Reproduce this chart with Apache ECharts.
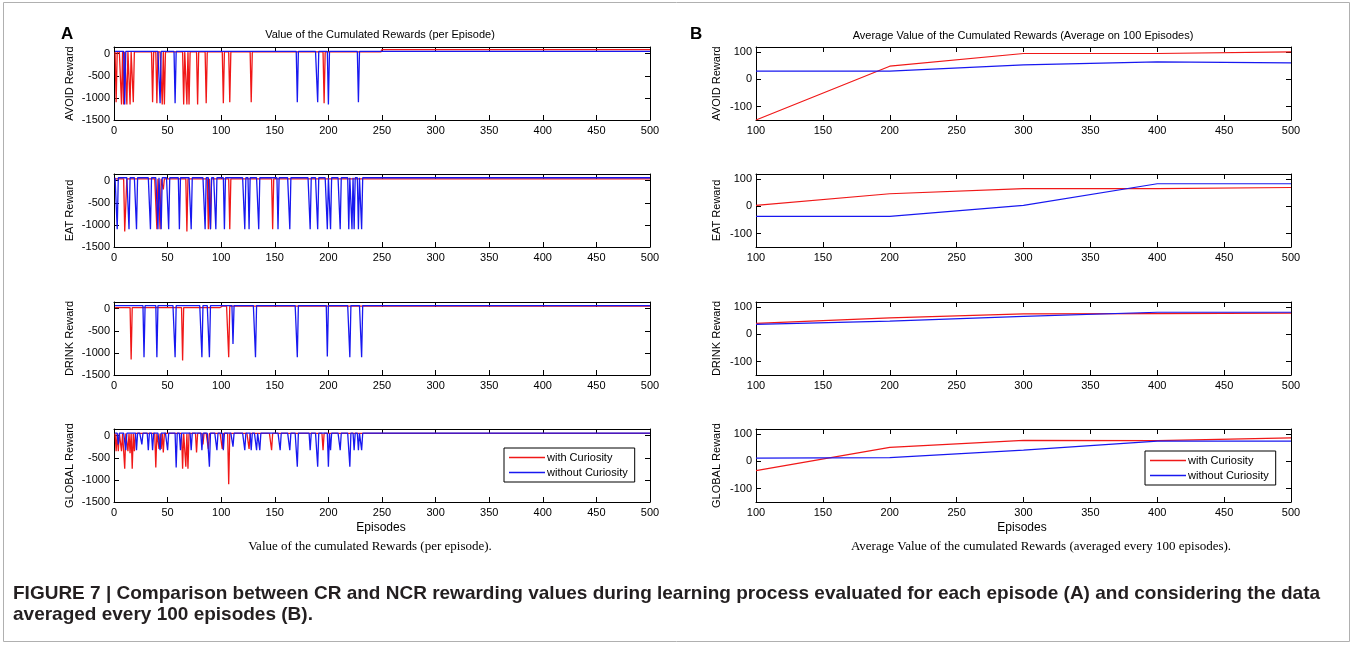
<!DOCTYPE html>
<html><head><meta charset="utf-8">
<script src="https://cdn.jsdelivr.net/npm/echarts@6/dist/echarts.min.js"></script>
<style>html,body{margin:0;padding:0;background:#fff}#c{width:1355px;height:645px}</style>
</head><body><div id="c"></div>
<script>
// ---------- labels ----------
const panelNames = ['AVOID Reward', 'EAT Reward', 'DRINK Reward', 'GLOBAL Reward'];
const seriesNames = ['with Curiosity', 'without Curiosity'];
const titleA = 'Value of the Cumulated Rewards (per Episode)';
const titleB = 'Average Value of the Cumulated Rewards (Average on 100 Episodes)';
const captionA = 'Value of the cumulated Rewards (per episode).';
const captionB = 'Average Value of the cumulated Rewards (averaged every 100 episodes).';
const figCaption1 = 'FIGURE 7 | Comparison between CR and NCR rewarding values during learning process evaluated for each episode (A) and considering the data';
const figCaption2 = 'averaged every 100 episodes (B).';
const xLabel = 'Episodes';

// ---------- axis ticks ----------
const episodeCount = 500;
const leftYTicks = [-1500, -1000, -500, 0];
const rightYTicks = [-100, 0, 100];

// ---------- panel A: per-episode rewards ----------
// baseline levels: [from episode, value]
const avoidWithLevels = [[1, 40], [250, 90]];
const avoidWithoutLevels = [[1, 50]];
const eatWithLevels = [[1, 40]];
const eatWithoutLevels = [[1, 65]];
const drinkWithLevels = [[1, 25], [100, 55]];
const drinkWithoutLevels = [[1, 70]];
const globalWithLevels = [[1, 50]];
const globalWithoutLevels = [[1, 55]];

// drops: [episode, value]
const avoidWithDrops = [[2,-1100],[7,-1150],[9,-1150],[12,-1150],[15,-1150],[18,-1100],[36,-1100],[40,-1120],[45,-1150],[47,-1150],[65,-1150],[68,-1150],[70,-1150],[78,-1150],[86,-1120],[102,-1120],[108,-1100],[128,-1100],[196,-1120]];
const avoidWithoutDrops = [[10,-1150],[43,-1120],[57,-1120],[171,-1100],[190,-1100],[200,-1150],[228,-1100]];
const eatWithDrops = [[10,-1150],[11,-550],[40,-1100],[43,-1100],[46,-200],[68,-1150],[88,-1100],[90,-1100],[108,-1100],[148,-1100]];
const eatWithoutDrops = [[3,-1100],[14,-1100],[21,-1100],[34,-1100],[41,-1100],[44,-1100],[51,-1100],[61,-1100],[72,-1100],[85,-1100],[90,-1100],[95,-1100],[103,-1100],[122,-1100],[126,-1100],[135,-1100],[153,-1100],[164,-1100],[183,-1100],[190,-1100],[199,-1100],[202,-1100],[211,-1100],[219,-1100],[222,-1100],[224,-1100],[228,-1100],[231,-1100]];
const drinkWithDrops = [[16,-1150],[64,-1170],[107,-1100]];
const drinkWithoutDrops = [[28,-1100],[40,-1100],[57,-1100],[82,-1100],[89,-1100],[111,-800],[132,-1100],[171,-1100],[199,-1080],[220,-1100],[231,-1100]];
const globalWithDrops = [[2,-350],[4,-350],[7,-350],[10,-750],[13,-350],[15,-400],[17,-750],[19,-350],[39,-720],[42,-300],[44,-300],[46,-380],[64,-750],[67,-700],[69,-750],[77,-380],[83,-200],[88,-300],[101,-300],[107,-1100],[126,-300],[147,-330],[195,-330]];
const globalWithoutDrops = [[4,-200],[11,-330],[21,-330],[26,-200],[32,-330],[36,-330],[43,-330],[50,-330],[58,-720],[62,-330],[72,-330],[82,-330],[89,-700],[96,-330],[102,-330],[111,-250],[122,-330],[128,-330],[133,-330],[136,-330],[155,-330],[164,-330],[171,-700],[183,-330],[190,-700],[200,-700],[202,-330],[211,-330],[220,-700],[224,-330],[228,-330],[231,-330]];

// ---------- panel B: averages every 100 episodes ----------
const avgEpisodes = [100, 200, 300, 400, 500];
const avgAvoidWith = [-150, 49, 96, 96, 102];
const avgAvoidWithout = [31, 31, 54, 65, 61];
const avgEatWith = [4, 47, 66, 66, 70];
const avgEatWithout = [-37, -37, 4, 84, 84];
const avgDrinkWith = [41, 61, 76, 77, 79];
const avgDrinkWithout = [37, 49, 67, 82, 82];
const avgGlobalWith = [-34, 52, 78, 77, 87];
const avgGlobalWithout = [12, 14, 42, 75, 75];

// ---------- build ----------
function perEpisode(levels, drops) {
  const m = new Map(drops);
  const out = [];
  let li = 0;
  for (let ep = 1; ep <= episodeCount; ep++) {
    while (li + 1 < levels.length && ep >= levels[li + 1][0]) li++;
    out.push([ep, m.has(ep) ? m.get(ep) : levels[li][1]]);
  }
  return out;
}
function pairs(xs, ys) { return xs.map((x, i) => [x, ys[i]]); }

const leftData = [
  [perEpisode(avoidWithLevels, avoidWithDrops), perEpisode(avoidWithoutLevels, avoidWithoutDrops)],
  [perEpisode(eatWithLevels, eatWithDrops), perEpisode(eatWithoutLevels, eatWithoutDrops)],
  [perEpisode(drinkWithLevels, drinkWithDrops), perEpisode(drinkWithoutLevels, drinkWithoutDrops)],
  [perEpisode(globalWithLevels, globalWithDrops), perEpisode(globalWithoutLevels, globalWithoutDrops)]
];
const rightData = [
  [pairs(avgEpisodes, avgAvoidWith), pairs(avgEpisodes, avgAvoidWithout)],
  [pairs(avgEpisodes, avgEatWith), pairs(avgEpisodes, avgEatWithout)],
  [pairs(avgEpisodes, avgDrinkWith), pairs(avgEpisodes, avgDrinkWithout)],
  [pairs(avgEpisodes, avgGlobalWith), pairs(avgEpisodes, avgGlobalWithout)]
];

const RED = '#f01818', BLUE = '#1818f0';
const FONT = 'Liberation Sans, Arial, sans-serif';
const panelTops = [47, 174, 302, 429];
const panelH = 73;
const grids = [], xAxes = [], yAxes = [], series = [];
const plain = v => String(v);

function axisBase(extra) {
  return Object.assign({
    type: 'value',
    axisLine: { show: true, onZero: false, lineStyle: { color: '#000', width: 1 } },
    axisTick: { show: true, inside: true, length: 5, lineStyle: { color: '#000', width: 1 } },
    splitLine: { show: false },
    axisLabel: { show: true, color: '#000', fontSize: 11, fontFamily: FONT, margin: 5, formatter: plain, showMinLabel: true, showMaxLabel: true, hideOverlap: false }
  }, extra);
}

for (let side = 0; side < 2; side++) {
  for (let p = 0; p < 4; p++) {
    const g = grids.length;
    grids.push({ left: side === 0 ? 114 : 756, width: side === 0 ? 536 : 535, top: panelTops[p], height: panelH, containLabel: false });
    const xmin = side === 0 ? 0 : 100;
    xAxes.push(axisBase({ gridIndex: g, position: 'bottom', min: xmin, max: 500, interval: 50 }));
    const xt = axisBase({ gridIndex: g, position: 'top', min: xmin, max: 500, interval: 50 });
    xt.axisLabel = { show: false };
    xAxes.push(xt);
    const ticks = side === 0 ? leftYTicks : rightYTicks;
    const ymin = side === 0 ? -1500 : -150, ymax = side === 0 ? 150 : 120;
    const yl = axisBase({ gridIndex: g, position: 'left', min: ymin, max: ymax,
      name: panelNames[p], nameLocation: 'middle', nameGap: side === 0 ? 39 : 34,
      nameTextStyle: { color: '#000', fontSize: 11, fontFamily: FONT } });
    yl.axisLabel.margin = 4;
    yl.axisLabel.customValues = ticks;
    yl.axisTick.customValues = ticks;
    const yr = axisBase({ gridIndex: g, position: 'right', min: ymin, max: ymax });
    yr.axisTick.customValues = ticks;
    yr.axisLabel = { show: false };
    yAxes.push(yl, yr);
    const data = side === 0 ? leftData[p] : rightData[p];
    [RED, BLUE].forEach((col, k) => {
      series.push({
        type: 'line', name: seriesNames[k], xAxisIndex: 2 * g, yAxisIndex: 2 * g,
        data: data[k], symbol: 'none', showSymbol: false, animation: false,
        lineStyle: { color: col, width: side === 0 ? 1.3 : 1.2 }, itemStyle: { color: col },
        emphasis: { disabled: true }, z: 2 + k
      });
    });
  }
}

function legendAt(left, top) {
  return {
    data: seriesNames.map(n => ({ name: n, icon: 'path://M0,0L36,0L36,1.4L0,1.4Z' })),
    orient: 'vertical', left: left, top: top,
    backgroundColor: '#fff', borderColor: '#000', borderWidth: 1, borderRadius: 0,
    padding: [4, 7, 4, 5], itemWidth: 36, itemHeight: 14, itemGap: 4,
    textStyle: { color: '#000', fontSize: 11, fontFamily: FONT, padding: [0, 0, 0, -3] },
    selectedMode: false
  };
}

function txt(text, x, y, size, opts) {
  return { type: 'text', silent: true, style: Object.assign({ text: text, x: x, y: y, fill: '#000',
    font: (opts && opts.weight ? opts.weight + ' ' : '') + size + 'px ' + ((opts && opts.family) || FONT),
    align: (opts && opts.align) || 'center', verticalAlign: 'middle' }, (opts && opts.style) || {}) };
}

const option = {
  backgroundColor: '#fff',
  animation: false,
  grid: grids, xAxis: xAxes, yAxis: yAxes, series: series,
  legend: [legendAt(504, 448), legendAt(1145, 451)],
  graphic: [
    { type: 'rect', silent: true, shape: { x: 3.5, y: 2.5, width: 1346, height: 639 }, style: { fill: 'none', stroke: '#b0b0b0', lineWidth: 1 } },
    txt('A', 61, 34, 17, { weight: 'bold', align: 'left' }),
    txt('B', 690, 34, 17, { weight: 'bold', align: 'left' }),
    txt(titleA, 380, 35, 11),
    txt(titleB, 1023, 36, 11),
    txt(xLabel, 381, 528, 12),
    txt(xLabel, 1022, 528, 12),
    txt(captionA, 370, 547, 13, { family: 'Liberation Serif, Times New Roman, serif' }),
    txt(captionB, 1041, 547, 13, { family: 'Liberation Serif, Times New Roman, serif' }),
    txt(figCaption1, 13, 594, 19, { weight: 'bold', align: 'left', style: { fill: '#231f20' } }),
    txt(figCaption2, 13, 615, 19, { weight: 'bold', align: 'left', style: { fill: '#231f20' } })
  ]
};

const chart = echarts.init(document.getElementById('c'), null, { renderer: 'canvas' });
chart.setOption(option);
</script>
</body></html>
